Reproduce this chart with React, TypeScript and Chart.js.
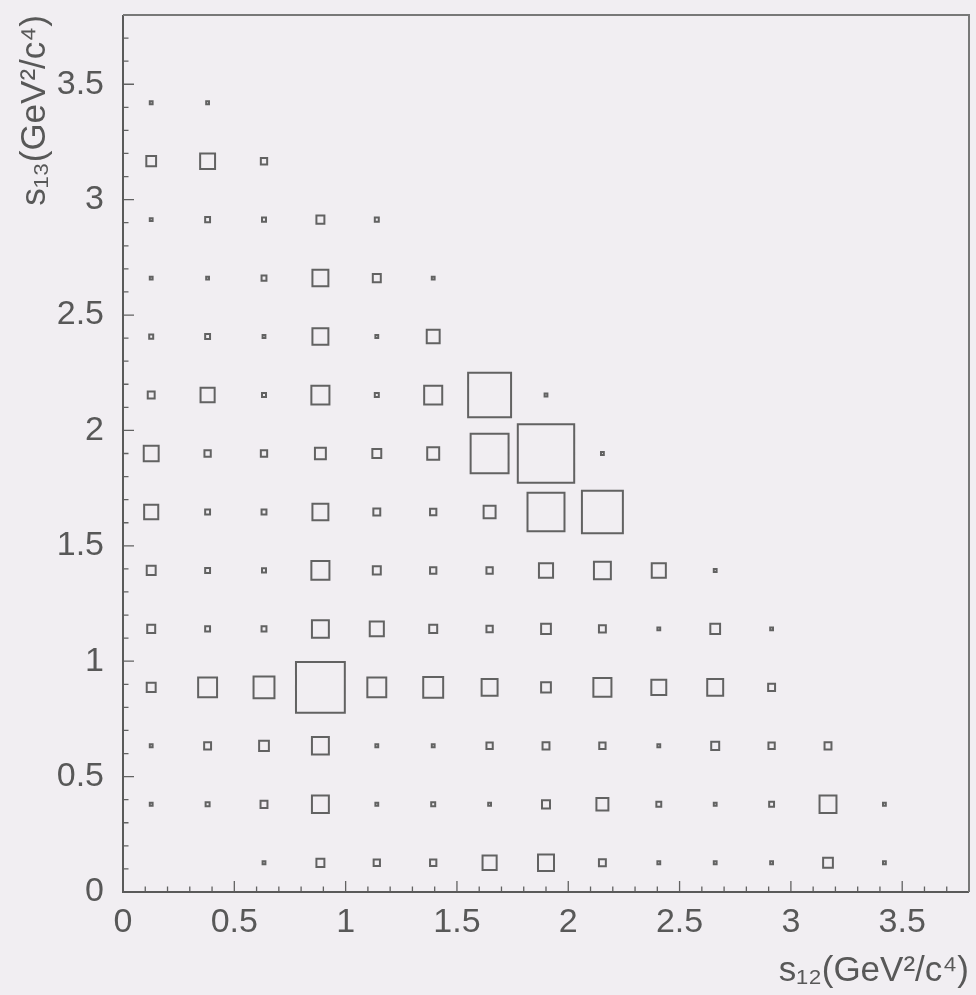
import { useEffect, useRef } from "react";
import { Chart, registerables } from "chart.js";

Chart.register(...registerables);

// Dalitz-plot binning: 15 x 15 bins over 0..3.8 GeV²/c⁴ on both axes
const BIN_COUNT = 15;
const AXIS_MIN = 0;
const AXIS_MAX = 3.8;

const TICK_VALUES = [0, 0.5, 1, 1.5, 2, 2.5, 3, 3.5];
const TICK_LABELS = ["0", "0.5", "1", "1.5", "2", "2.5", "3", "3.5"];
const MINOR_STEP = 0.1;

const X_TITLE = "s₁₂(GeV²/c⁴)";
const Y_TITLE = "s₁₃(GeV²/c⁴)";

// Bin contents, one array per s13 bin (lowest first), one entry per s12 bin
const ROW_00 = [0, 0, 1, 8, 5, 5, 25, 32, 6, 1, 1, 1, 12, 1, 0];
const ROW_01 = [1, 2, 6, 36, 1, 2, 1, 8, 18, 3, 1, 3, 36, 1, 0];
const ROW_02 = [1, 6, 12, 36, 1, 1, 5, 6, 5, 1, 8, 5, 6, 0, 0];
const ROW_03 = [10, 45, 55, 300, 45, 50, 32, 12, 41, 28, 32, 6, 0, 0, 0];
const ROW_04 = [8, 3, 3, 36, 25, 8, 5, 12, 6, 1, 12, 1, 0, 0, 0];
const ROW_05 = [10, 3, 2, 41, 8, 5, 5, 25, 36, 25, 1, 0, 0, 0, 0];
const ROW_06 = [25, 3, 3, 32, 6, 5, 18, 172, 211, 0, 0, 0, 0, 0, 0];
const ROW_07 = [28, 5, 5, 15, 10, 18, 181, 400, 1, 0, 0, 0, 0, 0, 0];
const ROW_08 = [6, 25, 2, 41, 2, 41, 232, 1, 0, 0, 0, 0, 0, 0, 0];
const ROW_09 = [2, 3, 1, 32, 1, 21, 0, 0, 0, 0, 0, 0, 0, 0, 0];
const ROW_10 = [1, 1, 3, 32, 8, 1, 0, 0, 0, 0, 0, 0, 0, 0, 0];
const ROW_11 = [1, 3, 2, 8, 2, 0, 0, 0, 0, 0, 0, 0, 0, 0, 0];
const ROW_12 = [12, 28, 5, 0, 0, 0, 0, 0, 0, 0, 0, 0, 0, 0, 0];
const ROW_13 = [1, 1, 0, 0, 0, 0, 0, 0, 0, 0, 0, 0, 0, 0, 0];
const ROW_14 = [0, 0, 0, 0, 0, 0, 0, 0, 0, 0, 0, 0, 0, 0, 0];

const ROWS = [
  ROW_00, ROW_01, ROW_02, ROW_03, ROW_04, ROW_05, ROW_06, ROW_07,
  ROW_08, ROW_09, ROW_10, ROW_11, ROW_12, ROW_13, ROW_14,
];

const FONT_FAMILY = "'Liberation Sans', Arial, Helvetica, sans-serif";
const TEXT_COLOR = "#585858";
const LINE_COLOR = "#626262";
const BACKGROUND = "#f1eef2";

type Pt = { x: number; y: number };

// Each bin becomes a closed square outline whose area scales with the bin content.
function buildBoxOutlines(): Pt[] {
  const binW = (AXIS_MAX - AXIS_MIN) / BIN_COUNT;
  let vmax = 0;
  ROWS.forEach((row) => row.forEach((v) => (vmax = Math.max(vmax, v))));
  const pts: Pt[] = [];
  ROWS.forEach((row, j) => {
    row.forEach((v, i) => {
      if (v <= 0) return;
      const cx = AXIS_MIN + (i + 0.5) * binW;
      const cy = AXIS_MIN + (j + 0.5) * binW;
      const h = 0.5 * binW * Math.sqrt(v / vmax);
      pts.push(
        { x: cx - h, y: cy - h },
        { x: cx + h, y: cy - h },
        { x: cx + h, y: cy + h },
        { x: cx - h, y: cy + h },
        { x: cx - h, y: cy - h },
        { x: NaN, y: NaN }
      );
    });
  });
  return pts;
}

// Frame around the plot area plus inward-pointing major/minor tick marks.
const framePlugin = {
  id: "frameTicks",
  afterDraw(chart: any) {
    const { ctx, chartArea: a, scales } = chart;
    const xs = scales.x;
    const ys = scales.y;
    ctx.save();
    ctx.strokeStyle = LINE_COLOR;
    ctx.lineWidth = 1.3;
    const nMinor = Math.round((AXIS_MAX - AXIS_MIN) / MINOR_STEP);
    for (let k = 0; k <= nMinor; k++) {
      const v = AXIS_MIN + k * MINOR_STEP;
      const major = TICK_VALUES.some((t) => Math.abs(t - v) < 1e-6);
      const len = major ? 11 : 5.5;
      const px = xs.getPixelForValue(v);
      const py = ys.getPixelForValue(v);
      ctx.beginPath();
      ctx.moveTo(px, a.bottom);
      ctx.lineTo(px, a.bottom - len);
      ctx.moveTo(a.left, py);
      ctx.lineTo(a.left + len, py);
      ctx.stroke();
    }
    ctx.lineWidth = 2;
    ctx.strokeStyle = "#5a5a5a";
    ctx.beginPath();
    ctx.moveTo(a.left, a.top);
    ctx.lineTo(a.left, a.bottom);
    ctx.lineTo(a.right, a.bottom);
    ctx.stroke();
    ctx.strokeStyle = "#787878";
    ctx.beginPath();
    ctx.moveTo(a.left, a.top);
    ctx.lineTo(a.right, a.top);
    ctx.lineTo(a.right, a.bottom);
    ctx.stroke();
    ctx.restore();
  },
};

function tickLabel(value: number) {
  const idx = TICK_VALUES.findIndex((t) => Math.abs(t - value) < 1e-6);
  return idx >= 0 ? TICK_LABELS[idx] : "";
}

export default function App() {
  const canvasRef = useRef<HTMLCanvasElement | null>(null);

  useEffect(() => {
    const canvas = canvasRef.current;
    if (!canvas) return;
    const tickFont = { family: FONT_FAMILY, size: 34 };
    const titleFont = { family: FONT_FAMILY, size: 35 };
    const fixedTicks = (s: any) => {
      s.ticks = TICK_VALUES.map((v) => ({ value: v }));
    };
    const noEdgePadding = (s: any) => {
      s.paddingTop = 0;
      s.paddingBottom = 0;
      s.paddingLeft = 0;
      s.paddingRight = 0;
    };
    const chart = new Chart(canvas, {
      type: "scatter",
      data: {
        datasets: [
          {
            data: buildBoxOutlines(),
            showLine: true,
            spanGaps: false,
            pointRadius: 0,
            pointHoverRadius: 0,
            borderColor: LINE_COLOR,
            borderWidth: 2,
            borderCapStyle: "square",
            borderJoinStyle: "miter",
            tension: 0,
            fill: false,
          },
        ],
      },
      options: {
        responsive: false,
        animation: false,
        events: [],
        layout: { padding: { left: 0, top: 15, right: 7, bottom: 0 } },
        plugins: { legend: { display: false }, tooltip: { enabled: false } },
        scales: {
          x: {
            type: "linear",
            min: AXIS_MIN,
            max: AXIS_MAX,
            afterBuildTicks: fixedTicks,
            afterFit: (s: any) => {
              s.height = 103;
              noEdgePadding(s);
            },
            grid: { display: false, drawTicks: false },
            border: { display: false },
            ticks: {
              callback: (v: any) => tickLabel(Number(v)),
              font: tickFont,
              color: TEXT_COLOR,
              padding: 10,
              maxRotation: 0,
              autoSkip: false,
            },
            title: {
              display: true,
              text: X_TITLE,
              align: "end",
              font: titleFont,
              color: TEXT_COLOR,
              padding: { top: 0, bottom: 3 },
            },
          },
          y: {
            type: "linear",
            min: AXIS_MIN,
            max: AXIS_MAX,
            afterBuildTicks: fixedTicks,
            afterFit: (s: any) => {
              s.width = 123;
              noEdgePadding(s);
            },
            grid: { display: false, drawTicks: false },
            border: { display: false },
            ticks: {
              callback: (v: any) => tickLabel(Number(v)),
              font: tickFont,
              color: TEXT_COLOR,
              padding: 19,
              autoSkip: false,
            },
            title: {
              display: true,
              text: Y_TITLE,
              align: "end",
              font: titleFont,
              color: TEXT_COLOR,
              padding: { top: 14, bottom: 0 },
            },
          },
        },
      },
      plugins: [framePlugin],
    } as any);
    return () => chart.destroy();
  }, []);

  return (
    <div
      style={{
        position: "fixed",
        left: 0,
        top: 0,
        width: 976,
        height: 995,
        background: BACKGROUND,
      }}
    >
      <canvas ref={canvasRef} width={976} height={995} style={{ display: "block" }} />
    </div>
  );
}
